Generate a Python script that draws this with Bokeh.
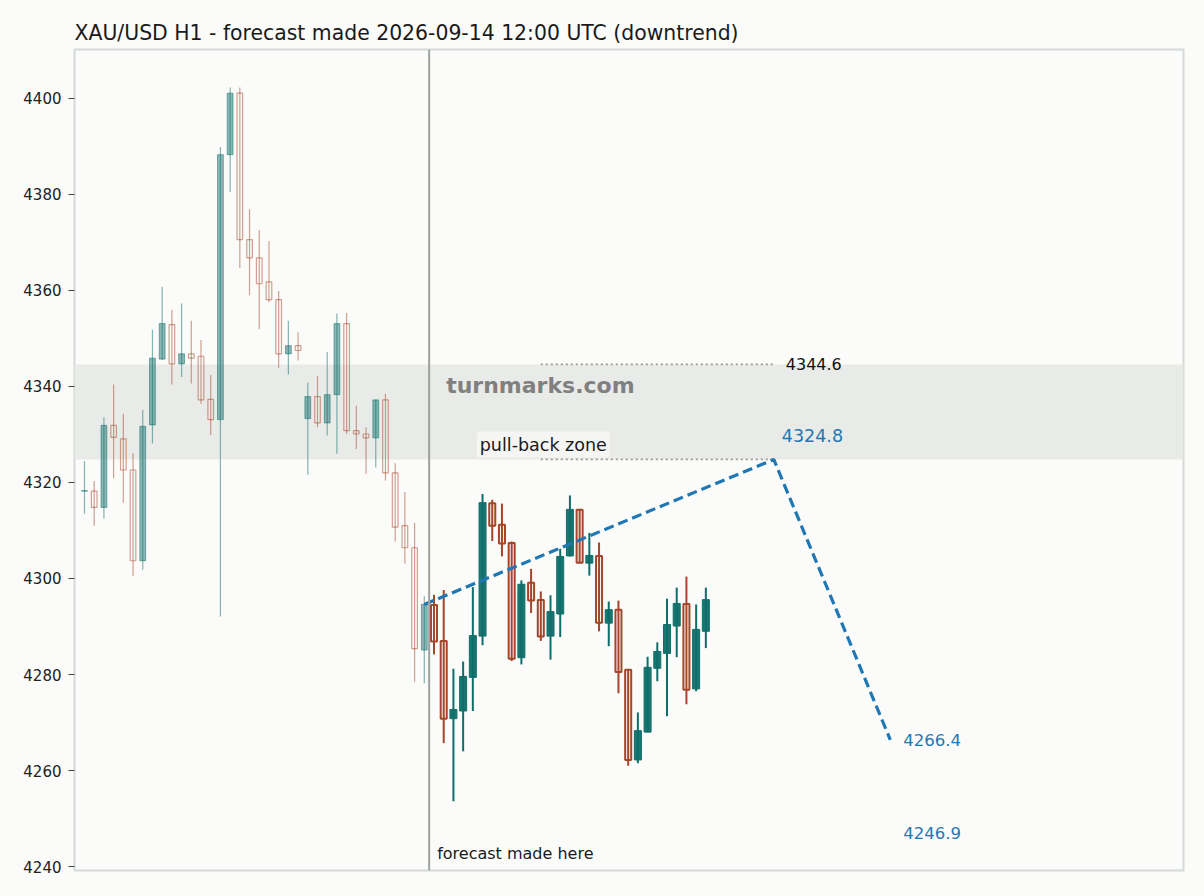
from bokeh.plotting import figure
from bokeh.models import Range1d, FixedTicker, Span, BoxAnnotation, Label
from bokeh.embed import file_html
from bokeh.resources import INLINE

# candles before the forecast (index 0..35)
hist_open = [4318.2, 4318.2, 4314.8, 4331.9, 4329.1, 4322.6, 4303.7, 4332.0, 4345.7, 4352.9,
             4344.7, 4346.8, 4346.3, 4337.3, 4333.1, 4388.3, 4401.1, 4370.6, 4366.8, 4361.8,
             4358.1, 4346.8, 4348.5, 4333.3, 4337.9, 4332.4, 4338.3, 4353.1, 4330.8, 4330.1,
             4329.3, 4337.2, 4322.0, 4311.0, 4306.4, 4285.1]
hist_high = [4324.5, 4320.3, 4333.6, 4340.4, 4334.3, 4326.1, 4335.1, 4351.8, 4360.8, 4356.0,
             4357.3, 4353.7, 4349.7, 4342.4, 4389.9, 4402.3, 4402.3, 4376.9, 4372.6, 4370.3,
             4359.9, 4353.7, 4351.3, 4340.8, 4342.2, 4347.2, 4355.2, 4355.3, 4336.0, 4331.5,
             4337.3, 4338.5, 4324.0, 4318.0, 4311.6, 4296.3]
hist_low = [4313.5, 4311.0, 4312.5, 4320.9, 4315.8, 4300.5, 4301.8, 4328.1, 4345.5, 4340.4,
            4342.0, 4340.6, 4336.4, 4329.9, 4292.1, 4380.5, 4364.7, 4359.0, 4351.9, 4357.6,
            4343.9, 4342.5, 4345.4, 4321.6, 4331.5, 4329.8, 4326.0, 4330.1, 4327.0, 4321.8,
            4323.1, 4320.4, 4307.7, 4303.1, 4278.5, 4278.2]
hist_close = [4318.3, 4314.8, 4331.9, 4329.4, 4322.6, 4303.7, 4331.7, 4345.9, 4353.1, 4344.7,
              4346.8, 4345.9, 4337.2, 4333.1, 4388.3, 4401.1, 4370.6, 4366.8, 4361.4, 4358.1,
              4346.8, 4348.5, 4347.5, 4337.9, 4332.4, 4338.3, 4353.1, 4330.8, 4330.1, 4329.3,
              4337.2, 4322.0, 4310.7, 4306.4, 4285.4, 4294.6]

# candles after the forecast (index 36..64)
fut_open = [4294.5, 4287.0, 4270.8, 4272.4, 4279.4, 4288.0, 4315.7, 4311.2, 4307.4, 4283.5,
            4299.1, 4295.5, 4288.0, 4292.6, 4304.7, 4314.3, 4303.2, 4304.7, 4290.7, 4293.5,
            4281.0, 4262.2, 4268.0, 4281.3, 4284.4, 4290.1, 4294.7, 4277.0, 4289.0]
fut_high = [4296.6, 4297.6, 4281.2, 4282.7, 4298.2, 4317.6, 4316.4, 4315.6, 4307.7, 4299.6,
            4302.0, 4297.3, 4296.5, 4306.2, 4317.3, 4314.5, 4309.5, 4307.5, 4295.2, 4295.4,
            4281.0, 4272.1, 4283.7, 4286.7, 4295.8, 4298.1, 4300.4, 4294.6, 4298.1]
fut_low = [4284.2, 4265.7, 4253.6, 4264.0, 4272.4, 4286.1, 4307.8, 4304.6, 4282.8, 4282.1,
           4292.8, 4287.0, 4283.1, 4287.8, 4304.6, 4303.3, 4300.6, 4289.0, 4285.9, 4276.1,
           4261.0, 4261.5, 4268.0, 4278.6, 4271.3, 4283.6, 4273.8, 4276.5, 4285.5]
fut_close = [4286.9, 4270.8, 4272.7, 4279.6, 4288.1, 4315.8, 4311.0, 4307.3, 4283.3, 4298.8,
             4295.4, 4287.9, 4293.1, 4304.6, 4314.4, 4303.3, 4304.8, 4290.8, 4293.5, 4280.5,
             4262.2, 4268.3, 4281.5, 4284.8, 4290.4, 4294.8, 4276.8, 4289.4, 4295.6]

# forecast path and levels
path_x = [35, 71, 83]
path_y = [4294.6, 4324.8, 4266.4]
zone_low = 4324.8
zone_high = 4344.6
target_2 = 4246.9
forecast_at = 35.5

y_ticks = [4240, 4260, 4280, 4300, 4320, 4340, 4360, 4380, 4400]

TITLE = "XAU/USD H1 - forecast made 2026-09-14 12:00 UTC (downtrend)"
BULL = "#0f6e69"
BEAR = "#a3462a"
BG = "#fbfbf9"
FONT = "DejaVu Sans"

# the page template has no body margin, so the 8px go into the borders
p = figure(width=1196, height=888, output_backend="svg", toolbar_location=None,
           x_range=Range1d(-1.03, 113.2), y_range=Range1d(4239.17, 4410.2),
           min_border_left=74, min_border_right=13, min_border_top=49, min_border_bottom=18,
           title=TITLE)

p.background_fill_color = BG
p.border_fill_color = BG
p.outline_line_color = "#d4dad7"
p.outline_line_width = 2
p.grid.visible = False
p.xaxis.visible = False

p.title.text_font = FONT
p.title.text_font_size = "20.4px"
p.title.text_font_style = "normal"
p.title.text_color = "#1a1a1a"

p.yaxis.ticker = FixedTicker(ticks=y_ticks)
p.yaxis.axis_line_color = None
p.yaxis.minor_tick_line_color = None
p.yaxis.major_tick_in = 0
p.yaxis.major_tick_out = 6
p.yaxis.major_tick_line_color = "#444444"
p.yaxis.major_label_standoff = 7
p.yaxis.major_label_text_font = FONT
p.yaxis.major_label_text_font_size = "15px"
p.yaxis.major_label_text_color = "#222222"

# pull-back zone band
p.add_layout(BoxAnnotation(bottom=zone_low, top=zone_high, fill_color="#e9ebe8",
                           fill_alpha=1.0, line_color=None, level="underlay"))


def draw_candles(start, o, h, l, c, body_w, hollow_w, lw, alpha):
    xs = list(range(start, start + len(o)))
    up = [i for i in range(len(o)) if c[i] >= o[i]]
    dn = [i for i in range(len(o)) if c[i] < o[i]]
    for idx, col in ((up, BULL), (dn, BEAR)):
        p.segment(x0=[xs[i] for i in idx], y0=[h[i] for i in idx],
                  x1=[xs[i] for i in idx], y1=[l[i] for i in idx],
                  line_color=col, line_width=lw, line_alpha=alpha)
    p.vbar(x=[xs[i] for i in up], bottom=[o[i] for i in up], top=[c[i] for i in up],
           width=body_w, fill_color=BULL, fill_alpha=alpha * 0.95,
           line_color=BULL, line_alpha=alpha, line_width=1)
    # falling candles are hollow, the wick shows through
    p.vbar(x=[xs[i] for i in dn], bottom=[c[i] for i in dn], top=[o[i] for i in dn],
           width=hollow_w, fill_color=None, line_color=BEAR, line_alpha=alpha, line_width=lw)


draw_candles(0, hist_open, hist_high, hist_low, hist_close, 0.6, 0.58, 1.2, 0.5)
draw_candles(36, fut_open, fut_high, fut_low, fut_close, 0.72, 0.62, 2, 1.0)

# forecast made here
p.add_layout(Span(location=forecast_at, dimension="height", line_color="#9ea29f", line_width=2))
p.add_layout(Label(x=forecast_at, y=4242.7, x_offset=8, text="forecast made here",
                   text_font=FONT, text_font_size="16px", text_color="#1a1a1a",
                   text_baseline="middle"))

# dotted zone edges
p.segment(x0=[47, 47], y0=[zone_high, zone_low], x1=[path_x[1], path_x[1]],
          y1=[zone_high, zone_low], line_color="#999999", line_width=1.8, line_dash="2 3")

# forecast path
p.line(path_x, path_y, line_color="#1f77b4", line_width=3.2, line_dash="10 5")

p.add_layout(Label(x=path_x[1], y=zone_high, x_offset=12, text=f"{zone_high:.1f}",
                   text_font=FONT, text_font_size="16px", text_color="#111111",
                   text_baseline="middle"))
p.add_layout(Label(x=path_x[1], y=path_y[1], x_offset=8, y_offset=24, text=f"{path_y[1]:.1f}",
                   text_font=FONT, text_font_size="17.5px", text_color="#1f77b4",
                   text_baseline="middle"))
p.add_layout(Label(x=path_x[2], y=path_y[2], x_offset=13, text=f"{path_y[2]:.1f}",
                   text_font=FONT, text_font_size="16.5px", text_color="#1f77b4",
                   text_baseline="middle"))
p.add_layout(Label(x=path_x[2], y=target_2, x_offset=13, text=f"{target_2:.1f}",
                   text_font=FONT, text_font_size="16.5px", text_color="#1f77b4",
                   text_baseline="middle"))

p.add_layout(Label(x=37.25, y=4340.2, text="turnmarks.com", text_font=FONT,
                   text_font_size="22px", text_font_style="bold", text_color="#808080",
                   text_baseline="middle"))
p.add_layout(Label(x=40.4, y=4327.9, text="pull-back zone", text_font=FONT,
                   text_font_size="17.5px", text_color="#1a1a1a", text_baseline="middle",
                   background_fill_color="#f5f5f3", background_fill_alpha=0.95,
                   border_radius=3, padding=3))

html = file_html(p, INLINE)
html = html.replace("<body>", '<body style="background:%s">' % BG)
open("out.html", "w").write(html)
